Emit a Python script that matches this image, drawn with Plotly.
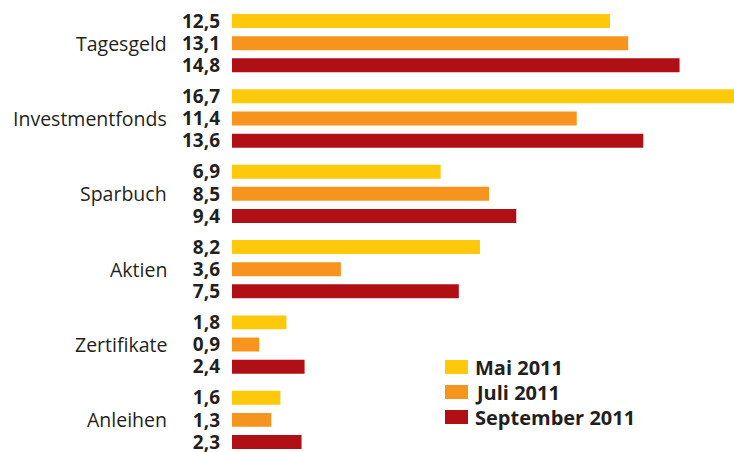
import plotly.graph_objects as go

categories = ["Tagesgeld", "Investmentfonds", "Sparbuch", "Aktien", "Zertifikate", "Anleihen"]
series_names = ["Mai 2011", "Juli 2011", "September 2011"]
mai_2011 = [12.5, 16.7, 6.9, 8.2, 1.8, 1.6]
juli_2011 = [13.1, 11.4, 8.5, 3.6, 0.9, 1.3]
sep_2011 = [14.8, 13.6, 9.4, 7.5, 2.4, 2.3]
series_values = [mai_2011, juli_2011, sep_2011]
colors = ["#FFC90B", "#F7941E", "#B00F16"]

GROUP_STEP = 3.4
TEXT_COLOR = "#231F20"
FONT = "Open Sans"
W, H = 734, 452
ML = 232

def fmt(v):
    return f"{v:.1f}".replace(".", ",")

def px_x(px):
    return (px - ML) / (W - ML)

def px_y(py):
    return 1 - py / H

fig = go.Figure()
tickvals, ticktext = [], []
for s, (name, vals, col) in enumerate(zip(series_names, series_values, colors)):
    ys = [g * GROUP_STEP + s for g in range(len(categories))]
    fig.add_trace(go.Bar(
        x=vals, y=ys, orientation="h", name=name,
        marker=dict(color=col, line=dict(width=0)),
        width=0.63, hoverinfo="x+name", showlegend=False,
    ))
    for y, v in zip(ys, vals):
        tickvals.append(y)
        ticktext.append(f"<b>{fmt(v)}</b>")

annotations = []
for g, cat in enumerate(categories):
    annotations.append(dict(
        text=cat, xref="paper", yref="y", x=px_x(169), y=g * GROUP_STEP + 1,
        xanchor="right", yanchor="middle", showarrow=False,
        font=dict(family=FONT, size=19.5, color=TEXT_COLOR),
    ))

# custom legend (boxes + labels)
shapes = []
legend_rows = [367, 392, 417]
for name, col, cy in zip(series_names, colors, legend_rows):
    shapes.append(dict(
        type="rect", xref="paper", yref="paper",
        x0=px_x(445), x1=px_x(468), y0=px_y(cy + 7), y1=px_y(cy - 7),
        fillcolor=col, line=dict(width=0),
    ))
    annotations.append(dict(
        text=f"<b>{name}</b>", xref="paper", yref="paper",
        x=px_x(473), y=px_y(cy), xanchor="left", yanchor="middle",
        showarrow=False, font=dict(family=FONT, size=20, color=TEXT_COLOR),
    ))

fig.update_layout(
    width=W, height=H,
    margin=dict(l=ML, r=0, t=0, b=0),
    paper_bgcolor="white", plot_bgcolor="white",
    barmode="overlay",
    showlegend=False,
    annotations=annotations,
    shapes=shapes,
    xaxis=dict(range=[0, 16.6], showgrid=False, zeroline=False, showticklabels=False,
               showline=False, fixedrange=True, automargin=False),
    yaxis=dict(range=[19.45, -0.948], tickvals=tickvals, ticktext=ticktext,
               showgrid=False, zeroline=False, showline=False, ticks="",
               ticklabelstandoff=11, automargin=False, ticklabeloverflow="allow",
               fixedrange=True,
               tickfont=dict(family=FONT, size=19, color=TEXT_COLOR)),
)

fig.write_html("out.html", config={"displayModeBar": False},
               post_script="document.body.style.margin='0';document.body.style.padding='0';")
